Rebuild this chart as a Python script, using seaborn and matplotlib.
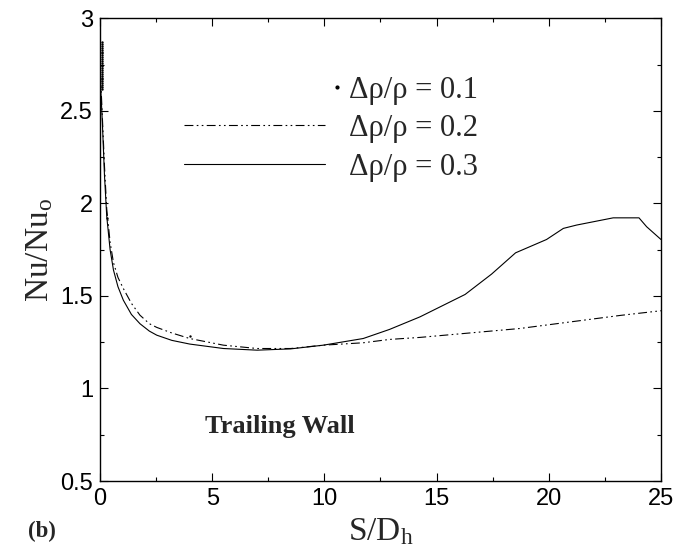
import numpy as np
import matplotlib
matplotlib.use("Agg")
import matplotlib.pyplot as plt
import seaborn as sns
from matplotlib.ticker import MultipleLocator
from matplotlib.lines import Line2D
from matplotlib.legend_handler import HandlerBase

# Nu/Nu_o along the trailing wall for three density ratios
x_r01 = [0.07, 0.07, 0.07, 0.07, 0.07, 0.07, 0.07, 0.07, 0.07, 0.07, 0.07,
         0.07, 0.07, 0.07, 0.07, 0.07, 0.07, 0.07, 0.07, 0.07, 0.07, 0.07,
         0.07, 0.07, 0.07, 0.07, 0.30, 4.0]
y_r01 = [2.87, 2.86, 2.85, 2.84, 2.83, 2.82, 2.81, 2.80, 2.79, 2.78, 2.77,
         2.76, 2.75, 2.74, 2.73, 2.72, 2.71, 2.70, 2.69, 2.68, 2.67, 2.66,
         2.65, 2.64, 2.63, 2.62, 1.92, 1.283]

x_r02 = [0.02, 0.10, 0.20, 0.30, 0.45, 0.60, 0.80, 1.04, 1.40, 1.78, 2.20,
         2.53, 3.20, 4.00, 5.50, 7.00, 8.50, 9.95, 11.73, 12.90, 14.26,
         18.70, 23.20, 25.00]
y_r02 = [2.70, 2.48, 2.20, 1.97, 1.79, 1.68, 1.60, 1.54, 1.46, 1.396, 1.35,
         1.33, 1.30, 1.27, 1.234, 1.216, 1.216, 1.234, 1.247, 1.265, 1.276,
         1.324, 1.395, 1.42]

x_r03 = [0.02, 0.10, 0.20, 0.30, 0.45, 0.60, 0.80, 1.04, 1.40, 1.78, 2.20,
         2.53, 3.20, 4.00, 5.50, 7.00, 8.50, 9.95, 11.73, 12.90, 14.26,
         16.27, 17.45, 18.52, 19.90, 20.65, 21.24, 22.87, 24.02, 24.36, 25.00]
y_r03 = [2.65, 2.45, 2.15, 1.93, 1.75, 1.64, 1.55, 1.477, 1.40, 1.35, 1.31,
         1.288, 1.26, 1.24, 1.216, 1.207, 1.214, 1.234, 1.27, 1.319, 1.387,
         1.508, 1.618, 1.733, 1.805, 1.865, 1.883, 1.922, 1.922, 1.874, 1.805]

legend_labels = ["\u0394\u03c1/\u03c1 = 0.1", "\u0394\u03c1/\u03c1 = 0.2",
                 "\u0394\u03c1/\u03c1 = 0.3"]
x_ticks = [0, 5, 10, 15, 20, 25]
y_ticks = [0.5, 1, 1.5, 2, 2.5, 3]

sns.set_theme(style="ticks")
plt.rcParams["font.family"] = ["Liberation Sans", "DejaVu Sans"]
plt.rcParams["mathtext.fontset"] = "stix"
plt.rcParams["mathtext.default"] = "regular"

SERIF = ["Liberation Serif", "DejaVu Serif"]
DASHDOTDOT = (8, 3, 1.5, 3, 1.5, 3)
LW = 0.8

fig = plt.figure(figsize=(6.78, 5.57), dpi=100)
ax = fig.add_axes([0.1475, 0.1364, 0.8274, 0.8307])

sns.lineplot(x=x_r03, y=y_r03, ax=ax, color="black", linewidth=LW,
             sort=False, estimator=None)
sns.lineplot(x=x_r02, y=y_r02, ax=ax, color="black", linewidth=LW,
             sort=False, estimator=None)
ax.lines[-1].set_dashes(DASHDOTDOT)
sns.scatterplot(x=x_r01, y=y_r01, ax=ax, color="black", s=3,
                marker="o", linewidth=0)

ax.set_xlim(0, 25)
ax.set_ylim(0.5, 3)
ax.set_xticks(x_ticks)
ax.set_yticks(y_ticks)
ax.set_xticklabels([f"{v:g}" for v in x_ticks])
ax.set_yticklabels([f"{v:g}" for v in y_ticks])
ax.xaxis.set_minor_locator(MultipleLocator(2.5))
ax.yaxis.set_minor_locator(MultipleLocator(0.25))
ax.tick_params(which="both", direction="in", top=True, right=True,
               colors="black", width=0.8)
ax.tick_params(which="major", length=6, labelsize=17, pad=5)
ax.tick_params(which="minor", length=3)
for sp in ax.spines.values():
    sp.set_color("black")
    sp.set_linewidth(1.0)

ax.set_xlabel("S/D$_h$", fontsize=24, family=SERIF, labelpad=4.5)
ax.set_ylabel("Nu/Nu$_o$", fontsize=24, family=SERIF, labelpad=4)


class EndMarkerHandler(HandlerBase):
    """Draws a single marker just past the right end of the handle box."""
    def create_artists(self, legend, orig_handle, xdescent, ydescent,
                       width, height, fontsize, trans):
        y = (height - ydescent) / 2
        x = width - xdescent + 0.4 * fontsize
        mark = Line2D([x], [y], linestyle="none",
                      marker=orig_handle.get_marker(),
                      markersize=orig_handle.get_markersize(),
                      color=orig_handle.get_color())
        mark.set_transform(trans)
        return [mark]


h01 = Line2D([], [], linestyle="none", marker="o", markersize=2,
             color="black")
h02 = Line2D([], [], color="black", linewidth=LW, dashes=DASHDOTDOT)
h03 = Line2D([], [], color="black", linewidth=LW)
ax.legend([h01, h02, h03], legend_labels, loc="upper left",
          bbox_to_anchor=(0.15, 0.876), frameon=False,
          prop={"family": SERIF, "size": 22}, handlelength=4.61,
          handletextpad=0.79, labelspacing=0.31, borderpad=0,
          borderaxespad=0, handler_map={h01: EndMarkerHandler()})

ax.text(4.68, 0.76, "Trailing Wall", fontsize=19, fontweight="bold",
        family=SERIF, va="baseline", ha="left")
fig.text(0.042, 0.035, "(b)", fontsize=16.5, fontweight="bold", family=SERIF)

fig.savefig("out.png", dpi=100)
